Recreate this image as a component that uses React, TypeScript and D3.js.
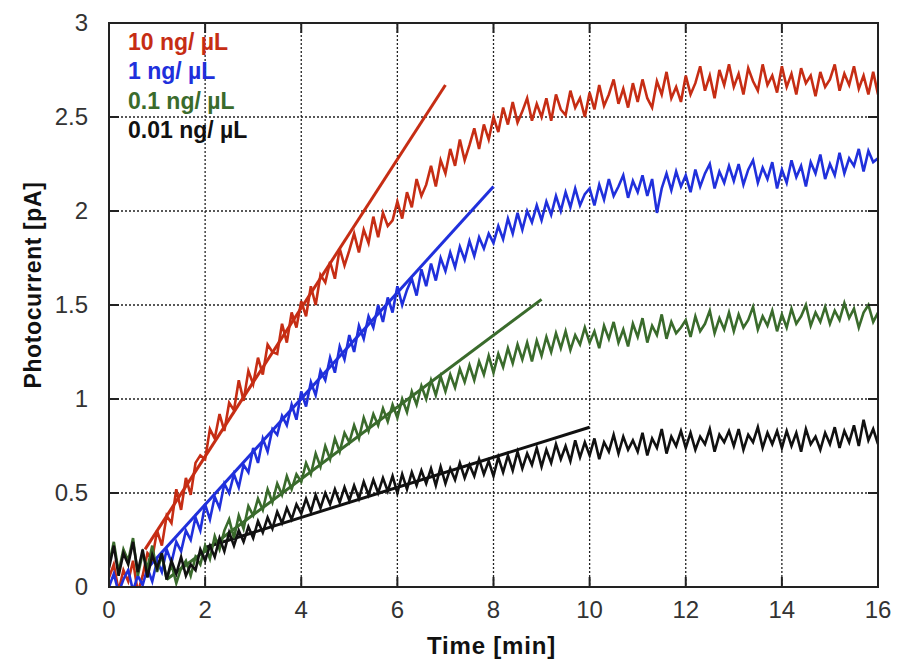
import React from 'react'
import * as d3 from 'd3'

// sample grid of the traces, in minutes (0 .. 16 every 0.1 min)
const sampleStep = 0.1

const red10 = [
  0.05, 0.12, -0.02, 0.09, 0.03, 0.14, -0.03, 0.06, 0.18, 0.15,
  0.3, 0.22, 0.38, 0.34, 0.52, 0.41, 0.58, 0.49, 0.66, 0.7,
  0.68, 0.84, 0.79, 0.92, 0.83, 0.98, 0.94, 1.1, 0.99, 1.15,
  1.08, 1.22, 1.13, 1.29, 1.25, 1.24, 1.4, 1.3, 1.46, 1.38,
  1.52, 1.44, 1.6, 1.5, 1.66, 1.62, 1.73, 1.64, 1.8, 1.71,
  1.79, 1.88, 1.78, 1.9, 1.83, 1.97, 1.86, 1.99, 1.92, 1.95,
  2.05, 1.96, 2.1, 2.02, 2.17, 2.08, 2.14, 2.24, 2.13, 2.27,
  2.2, 2.33, 2.24, 2.38, 2.27, 2.35, 2.44, 2.33, 2.46, 2.38,
  2.5, 2.42, 2.55, 2.46, 2.58, 2.47, 2.53, 2.6, 2.48, 2.57,
  2.5, 2.6, 2.48, 2.62, 2.54, 2.51, 2.64, 2.55, 2.6, 2.5,
  2.63, 2.54, 2.67, 2.56, 2.62, 2.7, 2.57, 2.65, 2.55, 2.68,
  2.58, 2.7, 2.6, 2.55, 2.69, 2.62, 2.74, 2.6, 2.66, 2.58,
  2.72, 2.62, 2.68, 2.77, 2.64, 2.72, 2.6, 2.75, 2.67, 2.78,
  2.66, 2.73, 2.62, 2.76, 2.69, 2.64, 2.78, 2.67, 2.72, 2.63,
  2.77, 2.66, 2.73, 2.62, 2.76, 2.68, 2.72, 2.61, 2.74, 2.66,
  2.7, 2.78, 2.64, 2.73, 2.67, 2.77, 2.65, 2.72, 2.62, 2.74,
  2.62
]

const blue1 = [
  0.0, 0.07, -0.03, 0.04, 0.09, -0.02, 0.06, 0.01, 0.1, 0.03,
  0.14, 0.08, 0.2, 0.13, 0.24, 0.19, 0.3, 0.25, 0.37, 0.3,
  0.44, 0.36, 0.48, 0.42, 0.55, 0.5, 0.6, 0.53, 0.65, 0.61,
  0.74, 0.66, 0.79, 0.72, 0.84, 0.81, 0.91, 0.86, 0.97, 0.89,
  1.04, 0.96, 1.09, 1.02, 1.15, 1.1, 1.22, 1.14, 1.28, 1.21,
  1.34, 1.25, 1.39, 1.32, 1.44, 1.38, 1.5, 1.41, 1.54, 1.46,
  1.6, 1.5, 1.58, 1.64, 1.55, 1.69, 1.6, 1.72, 1.63, 1.75,
  1.68, 1.78, 1.7, 1.81, 1.74, 1.84, 1.76, 1.86, 1.8, 1.88,
  1.83, 1.92, 1.85, 1.96, 1.88, 1.99, 1.9, 2.0, 1.94, 2.03,
  1.95, 2.05, 1.98, 2.08, 2.0, 2.1, 2.02, 2.12, 2.03, 2.09,
  2.12, 2.03, 2.14, 2.06, 2.17, 2.08, 2.13, 2.19, 2.07, 2.16,
  2.1, 2.19, 2.08, 2.17, 1.99, 2.12, 2.2, 2.11, 2.21, 2.13,
  2.19, 2.1, 2.22, 2.13, 2.2, 2.25, 2.12, 2.21, 2.15, 2.24,
  2.16, 2.25, 2.14, 2.22, 2.27, 2.15, 2.23, 2.17, 2.26, 2.12,
  2.22, 2.15, 2.27, 2.18, 2.24, 2.13, 2.26, 2.2, 2.3, 2.17,
  2.25, 2.19, 2.31, 2.2, 2.28, 2.24, 2.33, 2.21, 2.32, 2.26,
  2.28
]

const green01 = [
  0.12, 0.24, 0.08, 0.2, 0.14, 0.26, 0.06, 0.18, 0.1, 0.22,
  0.08, 0.17, 0.04, 0.12, 0.02, 0.1, 0.14, 0.06, 0.16, 0.12,
  0.22, 0.15, 0.27, 0.2, 0.3, 0.36, 0.26, 0.38, 0.31, 0.43,
  0.38, 0.47, 0.41, 0.52, 0.45, 0.55, 0.49, 0.59, 0.52, 0.6,
  0.56, 0.66, 0.6, 0.71, 0.64, 0.75, 0.68, 0.79, 0.72, 0.82,
  0.77, 0.86, 0.79, 0.9, 0.83, 0.92, 0.86, 0.95, 0.88, 0.97,
  0.9, 1.0, 0.93, 1.04, 0.97, 1.07, 1.0, 1.1, 1.02, 1.12,
  1.04, 1.13, 1.06, 1.16, 1.09, 1.18, 1.1, 1.2, 1.13, 1.23,
  1.14, 1.24, 1.17, 1.27, 1.19, 1.29, 1.21, 1.3, 1.2, 1.31,
  1.23, 1.33, 1.25, 1.35, 1.27, 1.36, 1.26, 1.34, 1.29, 1.38,
  1.3, 1.36, 1.27, 1.39, 1.32, 1.41, 1.3, 1.37, 1.28, 1.4,
  1.33, 1.43, 1.3, 1.39, 1.34, 1.45, 1.32, 1.41, 1.35, 1.38,
  1.42, 1.33, 1.44, 1.36, 1.4, 1.47, 1.35, 1.43, 1.37, 1.46,
  1.36, 1.45, 1.38, 1.42, 1.49, 1.37, 1.44, 1.39, 1.47, 1.36,
  1.45, 1.38, 1.48, 1.4, 1.44, 1.5, 1.39, 1.46, 1.41, 1.49,
  1.4, 1.47, 1.42, 1.51, 1.43, 1.48, 1.38, 1.46, 1.5, 1.41,
  1.46
]

const black001 = [
  0.1, 0.22, 0.06, 0.18, 0.12, 0.24, 0.08, 0.2, 0.05, 0.17,
  0.1, 0.18, 0.04, 0.14, 0.07, 0.16, 0.06, 0.12, 0.09, 0.2,
  0.14, 0.22, 0.16, 0.26, 0.19, 0.29, 0.22, 0.3, 0.24, 0.32,
  0.26, 0.35, 0.29, 0.37, 0.31, 0.4, 0.34, 0.42, 0.36, 0.44,
  0.39, 0.47, 0.4, 0.49, 0.42, 0.5, 0.44, 0.52, 0.45, 0.53,
  0.46, 0.54, 0.47, 0.56, 0.49, 0.57, 0.5, 0.58, 0.51, 0.59,
  0.5, 0.6, 0.52, 0.61, 0.54, 0.62, 0.55, 0.63, 0.54, 0.64,
  0.55, 0.63, 0.57, 0.66, 0.58, 0.65, 0.59, 0.68, 0.6, 0.67,
  0.59, 0.69, 0.61, 0.7, 0.62, 0.72, 0.63, 0.71, 0.65, 0.74,
  0.64, 0.73, 0.66, 0.76, 0.68, 0.75, 0.67, 0.78, 0.69, 0.77,
  0.7, 0.79, 0.68, 0.77, 0.72, 0.81, 0.71, 0.8, 0.73, 0.78,
  0.72, 0.82, 0.7, 0.79, 0.74, 0.84, 0.71, 0.8, 0.75, 0.83,
  0.74, 0.82, 0.73, 0.8, 0.76, 0.84, 0.72, 0.81, 0.77, 0.83,
  0.75, 0.84, 0.73, 0.81, 0.77, 0.85, 0.74, 0.82, 0.76, 0.83,
  0.74, 0.83, 0.75, 0.82, 0.72, 0.84, 0.76, 0.8, 0.73, 0.82,
  0.76, 0.85, 0.74, 0.83, 0.77, 0.86, 0.75, 0.89, 0.78, 0.84,
  0.76
]

// linear fits of the initial slope: [start, end] as [min, pA]
const fitRed = [[0.75, 0.2], [7, 2.67]]
const fitBlue = [[0.8, 0.1], [8, 2.13]]
const fitGreen = [[1.2, 0.04], [9, 1.53]]
const fitBlack = [[2, 0.21], [10, 0.85]]

const legendLabels = ['10 ng/ µL', '1 ng/ µL', '0.1 ng/ µL', '0.01 ng/ µL']
const seriesColors = ['#c62d14', '#2030dc', '#3a6b2c', '#111111']

const xTicks = [0, 2, 4, 6, 8, 10, 12, 14, 16]
const yTicks = [0, 0.5, 1, 1.5, 2, 2.5, 3]

const width = 898
const height = 662
const margin = { top: 23, right: 20, bottom: 75, left: 109 }

export default function App() {
  const innerW = width - margin.left - margin.right
  const innerH = height - margin.top - margin.bottom

  const x = d3.scaleLinear().domain([0, 16]).range([0, innerW])
  const y = d3.scaleLinear().domain([0, 3]).range([innerH, 0])

  const series = [red10, blue1, green01, black001]
  const fits = [fitRed, fitBlue, fitGreen, fitBlack]

  const line = d3.line<number>()
    .x((_, i) => x(i * sampleStep))
    .y(d => y(d))

  const fitLine = d3.line<number[]>()
    .x(d => x(d[0]))
    .y(d => y(d[1]))

  const tickLen = 10
  const font = 'Liberation Sans, Arial, Helvetica, sans-serif'

  return (
    <svg width={width} height={height}
      style={{ position: 'absolute', left: 0, top: 0, background: '#fff' }}>
      <defs>
        <clipPath id="plotClip">
          <rect x={0} y={0} width={innerW} height={innerH} />
        </clipPath>
      </defs>
      <g transform={`translate(${margin.left},${margin.top})`}>
        {/* dotted grid */}
        {xTicks.slice(1, -1).map(t => (
          <line key={'gx' + t} x1={x(t)} x2={x(t)} y1={0} y2={innerH}
            stroke="#222" strokeWidth={1.3} strokeDasharray="2,2" />
        ))}
        {yTicks.slice(1, -1).map(t => (
          <line key={'gy' + t} x1={0} x2={innerW} y1={y(t)} y2={y(t)}
            stroke="#222" strokeWidth={1.3} strokeDasharray="2,2" />
        ))}

        {/* fitted slopes under the traces */}
        <g clipPath="url(#plotClip)">
          {fits.map((f, i) => (
            <path key={'f' + i} d={fitLine(f) || ''} fill="none"
              stroke={seriesColors[i]} strokeWidth={3} />
          ))}
          {series.map((s, i) => (
            <path key={'s' + i} d={line(s) || ''} fill="none"
              stroke={seriesColors[i]} strokeWidth={2.6} strokeLinejoin="miter" />
          ))}
        </g>

        {/* ticks on all four sides, pointing inward */}
        {xTicks.slice(1, -1).map(t => (
          <g key={'tx' + t}>
            <line x1={x(t)} x2={x(t)} y1={innerH} y2={innerH - tickLen} stroke="#222" strokeWidth={2} />
            <line x1={x(t)} x2={x(t)} y1={0} y2={tickLen} stroke="#222" strokeWidth={2} />
          </g>
        ))}
        {yTicks.slice(1, -1).map(t => (
          <g key={'ty' + t}>
            <line x1={0} x2={tickLen} y1={y(t)} y2={y(t)} stroke="#222" strokeWidth={2} />
            <line x1={innerW} x2={innerW - tickLen} y1={y(t)} y2={y(t)} stroke="#222" strokeWidth={2} />
          </g>
        ))}

        <rect x={0} y={0} width={innerW} height={innerH} fill="none" stroke="#222" strokeWidth={2} />

        {/* tick labels */}
        {xTicks.map(t => (
          <text key={'lx' + t} x={x(t)} y={innerH + 31} textAnchor="middle"
            fontFamily={font} fontSize={24} fill="#333">{t}</text>
        ))}
        {yTicks.map(t => (
          <text key={'ly' + t} x={-21} y={y(t)} dy="0.35em" textAnchor="end"
            fontFamily={font} fontSize={24} fill="#333">{t}</text>
        ))}

        {/* legend */}
        {legendLabels.map((l, i) => (
          <text key={'lg' + i} x={19} y={27 + i * 29.3}
            fontFamily={font} fontSize={23} fontWeight="bold" fill={seriesColors[i]}>{l}</text>
        ))}
      </g>

      <text x={margin.left + innerW / 2 - 2} y={654} textAnchor="middle"
        fontFamily={font} fontSize={24} fontWeight="bold" letterSpacing={0.8} fill="#111">Time [min]</text>
      <text transform={`translate(41,${margin.top + 262}) rotate(-90)`} textAnchor="middle"
        fontFamily={font} fontSize={23} fontWeight="bold" letterSpacing={0.6} fill="#111">Photocurrent [pA]</text>
    </svg>
  )
}
